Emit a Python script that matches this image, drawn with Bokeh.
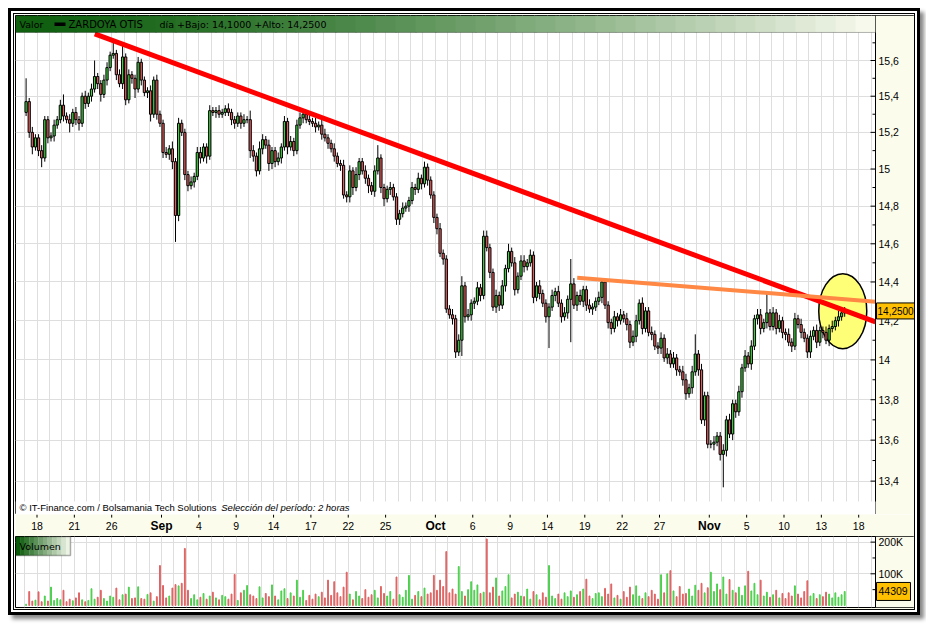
import numpy as np
import pandas as pd
from bokeh.plotting import figure
from bokeh.layouts import column
from bokeh.models import (Range1d, FixedTicker, Grid, BoxAnnotation, Label, Span, ColumnDataSource)
from bokeh.core.properties import value, field
from bokeh.embed import file_html
from bokeh.resources import INLINE

# ---------------- data (2-hour bars, 4 per trading day, 17 Aug .. 16 Nov 2009) ----------------
first_open = 15.31
close = [
    15.37, 15.20, 15.12, 15.17,  15.10, 15.06, 15.27, 15.17,  15.18, 15.24, 15.27, 15.35,
    15.29, 15.27, 15.25, 15.31,  15.27, 15.25, 15.40, 15.36,  15.40, 15.44, 15.51, 15.47,
    15.41, 15.49, 15.56, 15.63,  15.64, 15.52, 15.47, 15.62,  15.38, 15.52, 15.50, 15.44,
    15.59, 15.49, 15.42, 15.43,  15.30, 15.49, 15.30, 15.25,  15.09, 15.08, 15.11, 15.04,
    14.75, 15.25, 15.20, 14.97,  14.91, 14.93, 14.96, 15.09,  15.06, 15.12, 15.07, 15.32,
    15.31, 15.32, 15.30, 15.31,  15.33, 15.31, 15.27, 15.25,  15.29, 15.25, 15.27, 15.27,
    15.10, 15.07, 14.99, 15.11,  15.16, 15.13, 15.03, 15.10,  15.04, 15.06, 15.12, 15.26,
    15.12, 15.15, 15.10, 15.24,  15.28, 15.30, 15.27, 15.26,  15.25, 15.23, 15.24, 15.19,
    15.17, 15.14, 15.11, 15.07,  15.03, 15.02, 14.86, 14.85,  14.99, 14.90, 14.97, 15.04,
    14.99, 14.95, 14.91, 14.88,  14.99, 15.06, 14.90, 14.84,  14.89, 14.90, 14.85, 14.73,
    14.76, 14.79, 14.80, 14.83,  14.90, 14.89, 14.95, 14.92,  15.01, 14.94, 14.86, 14.74,
    14.68, 14.55, 14.52, 14.26,  14.23, 14.21, 14.04, 14.10,  14.38, 14.22, 14.23, 14.29,
    14.30, 14.37, 14.33, 14.64,  14.58, 14.45, 14.27, 14.33,  14.28, 14.38, 14.47, 14.56,
    14.50, 14.36, 14.43, 14.51,  14.48, 14.50, 14.54, 14.32,  14.38, 14.34, 14.29, 14.22,
    14.27, 14.33, 14.35, 14.29,  14.22, 14.24, 14.31, 14.39,  14.28, 14.33, 14.30, 14.36,
    14.28, 14.26, 14.27, 14.30,  14.32, 14.40, 14.28, 14.19,  14.16, 14.22, 14.20, 14.23,
    14.21, 14.18, 14.09, 14.12,  14.20, 14.29, 14.16, 14.25,  14.14, 14.13, 14.07, 14.06,
    14.11, 14.01, 14.03, 13.98,  14.01, 13.95, 13.94, 13.90,  13.83, 13.86, 13.94, 14.03,
    13.95, 13.70, 13.82, 13.58,  13.58, 13.59, 13.62, 13.53,  13.55, 13.70, 13.63, 13.78,
    13.74, 13.84, 13.96, 14.02,  13.98, 14.07, 14.21, 14.23,  14.16, 14.19, 14.24, 14.17,
    14.24, 14.16, 14.20, 14.14,  14.13, 14.09, 14.07, 14.21,  14.18, 14.14, 14.11, 14.04,
    14.12, 14.15, 14.09, 14.15,  14.14, 14.10, 14.16, 14.17,  14.20, 14.22, 14.24, 14.25,
]
# wick length above / below the body, in cents
wick_up = [
    13, 2, 3, 2,  2, 3, 2, 2,  2, 3, 2, 3,  6, 2, 3, 2,  3, 2, 2, 3,  2, 3, 9, 2,
    2, 3, 3, 2,  7, 2, 3, 8,  2, 3, 2, 2,  3, 2, 2, 2,  3, 2, 3, 2,  2, 3, 2, 4,
    2, 3, 2, 2,  2, 3, 2, 3,  3, 2, 2, 3,  2, 2, 3, 2,  2, 3, 2, 2,  2, 2, 3, 2,
    5, 3, 2, 4,  3, 2, 3, 2,  2, 3, 2, 3,  2, 3, 2, 3,  3, 2, 2, 4,  2, 3, 2, 3,
    3, 2, 2, 3,  2, 2, 3, 2,  3, 2, 4, 2,  2, 3, 2, 2,  3, 7, 2, 2,  2, 3, 2, 2,
    2, 3, 2, 2,  3, 2, 3, 2,  3, 2, 2, 2,  2, 3, 2, 2,  2, 3, 2, 3,  5, 2, 3, 2,
    2, 3, 2, 3,  3, 2, 2, 3,  2, 3, 2, 4,  2, 3, 2, 3,  3, 2, 3, 2,  2, 3, 2, 2,
    2, 3, 2, 3,  2, 3, 2, 13,  3, 2, 3, 2,  2, 3, 2, 2,  3, 2, 2, 2,  2, 3, 2, 3,
    2, 3, 2, 3,  3, 2, 3, 2,  2, 3, 2, 2,  3, 2, 3, 2,  3, 2, 2, 3,  3, 2, 3, 10,
    2, 3, 2, 2,  2, 3, 2, 2,  3, 2, 3, 2,  2, 3, 2, 3,  2, 3, 2, 3,  3, 2, 10, 2,
    3, 2, 3, 2,  2, 3, 2, 3,  2, 3, 2, 2,  3, 2, 3, 2,  2, 3, 2, 3,  2, 3, 2, 2,
]
wick_dn = [
    2, 3, 4, 2,  3, 5, 2, 3,  2, 3, 2, 2,  3, 2, 5, 2,  3, 4, 2, 3,  2, 3, 2, 3,
    4, 2, 3, 2,  2, 3, 2, 3,  3, 2, 3, 5,  2, 3, 2, 3,  4, 2, 3, 2,  3, 2, 3, 4,
    14, 3, 2, 3,  3, 2, 3, 2,  3, 2, 4, 2,  2, 3, 2, 2,  2, 2, 3, 3,  2, 3, 2, 2,
    4, 3, 3, 2,  3, 2, 4, 3,  3, 2, 3, 2,  4, 2, 3, 2,  2, 3, 2, 2,  2, 3, 2, 3,
    2, 3, 2, 3,  2, 3, 2, 3,  3, 4, 2, 3,  2, 3, 4, 2,  3, 2, 3, 4,  2, 3, 2, 3,
    3, 2, 2, 3,  2, 3, 2, 3,  2, 3, 2, 3,  3, 2, 3, 2,  2, 3, 3, 2,  8, 3, 2, 3,
    3, 2, 3, 2,  2, 3, 2, 3,  3, 2, 3, 2,  2, 3, 2, 2,  3, 2, 2, 3,  2, 3, 2, 3,
    16, 2, 3, 2,  3, 2, 3, 22,  2, 3, 2, 3,  3, 2, 3, 2,  2, 3, 2, 3,  3, 2, 3, 2,
    2, 3, 3, 2,  3, 2, 3, 2,  2, 3, 2, 3,  3, 2, 3, 2,  2, 3, 2, 3,  3, 2, 3, 2,
    3, 2, 3, 2,  2, 3, 2, 3,  16, 3, 2, 3,  3, 2, 3, 2,  2, 3, 2, 3,  3, 2, 3, 2,
    2, 3, 2, 3,  3, 2, 3, 2,  2, 3, 2, 3,  3, 2, 3, 2,  3, 2, 3, 2,  2, 3, 2, 2,
]
# volume per bar, thousands of shares
volume_k = [
    4, 44, 14, 17,  43, 12, 30, 14,  58, 16, 22, 18,  48, 12, 20, 15,  24, 40, 18, 12,
    16, 53, 20, 26,  48, 22, 14, 30,  26, 55, 18, 34,  36, 58, 22, 24,  59, 22, 20, 35,
    40, 14, 28, 126,  63, 24, 30, 55,  66, 62, 70, 180,  48, 22, 34, 18,  26, 38, 20, 30,
    42, 24, 18, 32,  28, 20, 36, 98,  16, 40, 48, 63,  34, 30, 22, 59,  24, 38, 28, 65,
    30, 18, 46, 53,  22, 40, 30, 80,  26, 48, 16, 32,  20, 36, 28, 42,  24, 80, 32, 75,
    40, 28, 58, 105,  36, 18, 44, 30,  22, 50, 26, 34,  48, 24, 60, 38,  30, 44, 20, 90,
    34, 26, 48, 95,  20, 32, 44, 28,  55, 36, 40, 95,  48, 80, 60, 170,  40, 52, 36, 123,
    44, 30, 50, 75,  48, 65, 38, 42,  210, 40, 58, 87,  30, 46, 60, 97,  24, 36, 42, 30,
    28, 52, 20, 44,  34, 18, 40, 26,  126, 30, 22, 36,  20, 40, 28, 46,  26, 34, 44, 52,
    83, 30, 22, 38,  40, 28, 54, 36,  68, 24, 32, 20,  44, 26, 58, 34,  62, 30, 22, 40,
    28, 48, 36, 20,  97, 40, 100, 110,  46, 28, 60, 36,  38, 52, 30, 64,  48, 70, 40, 56,
    105, 44, 68, 50,  90, 36, 82, 48,  40, 58, 32, 62,  108, 46, 70, 34,  80, 30, 42, 26,
    34, 48, 24, 38,  22, 40, 30, 62,  36, 24, 44, 78,  30, 38, 22, 34,  28, 42, 36, 24,
    40, 26, 34, 44.309,
]
tick_dates = ["2009-08-18", "2009-08-21", "2009-08-26", "2009-09-01", "2009-09-04", "2009-09-09",
              "2009-09-14", "2009-09-17", "2009-09-22", "2009-09-25", "2009-10-01", "2009-10-06",
              "2009-10-09", "2009-10-14", "2009-10-19", "2009-10-22", "2009-10-27", "2009-11-02",
              "2009-11-05", "2009-11-10", "2009-11-13", "2009-11-18"]
tick_labels = ["18", "21", "26", "Sep", "4", "9", "14", "17", "22", "25", "Oct", "6", "9", "14",
               "19", "22", "27", "Nov", "5", "10", "13", "18"]
price_ticks = [13.4, 13.6, 13.8, 14.0, 14.2, 14.4, 14.6, 14.8, 15.0, 15.2, 15.4, 15.6]
price_minor = [13.5, 13.7, 13.9, 14.1, 14.3, 14.5, 14.7, 14.9, 15.1, 15.3, 15.5, 15.7]
vol_ticks = [100, 200]
vol_minor = [50, 150]
# drawn trend lines (trading-day position, price)
resistance_x = [4.64, 67.35]
resistance_y = [15.751, 14.194]
support_x = [43.39, 67.35]
support_y = [14.422, 14.298]
highlight_x = [64.72]
highlight_y = [14.249]
last_price_text = "14,2500"
last_price = 14.25
last_volume_text = "44309"
last_volume = 44.309

# ---------------- derived ----------------
bdays = pd.bdate_range("2009-08-17", "2009-11-19")
day_index = {d.strftime("%Y-%m-%d"): i - 1 for i, d in enumerate(bdays)}
n = len(close)
bar_day = np.repeat(np.arange(-1, -1 + n // 4), 4)
bar_x = bar_day + (np.tile(np.arange(4), n // 4) + 0.5) / 4.0
c = np.array(close)
o = np.concatenate([[first_open], c[:-1]])
top = np.maximum(o, c)
bot = np.minimum(o, c)
hi = top + np.array(wick_up) / 100.0
lo = bot - np.array(wick_dn) / 100.0
up = c >= o
GREEN, RED = "#3fcc3f", "#e05c5c"
src = ColumnDataSource(dict(
    x=bar_x, top=top, bot=bot, hi=hi, lo=lo, vol=volume_k,
    color=[GREEN if u else RED for u in up],
    vcolor=["#4cd04c" if u else "#e06262" for u in up],
))

CREAM = "#fcfcec"
GRID = "#dedede"
FONT = "Liberation Sans"
PX = 12.45                      # pixels per trading day
AX = 67.35                      # position of the right-hand value axis
XR = Range1d(-1.727, 70.482)
day_grid = list(range(-1, 68))
Y0, Y1 = 13.2393, 15.8558
LOGPX = 2767.0                  # pixels per unit of ln(price)


def fmt_price(t):
    s_ = "%.1f" % t
    return (s_[:-2] if s_.endswith(".0") else s_).replace(".", ",")


def right_axis(fig, ticks, minor, labels, ymin, ymax):
    fig.add_layout(BoxAnnotation(left=AX, right=XR.end, bottom=ymin, top=ymax, fill_color=CREAM,
                                 fill_alpha=1, line_alpha=0, level="underlay"))
    fig.add_layout(Span(location=AX, dimension="height", line_color="black", line_width=1))
    fig.segment(x0=[AX - 5 / PX] * len(ticks), y0=ticks, x1=[AX] * len(ticks), y1=ticks,
                line_color="black", line_width=1)
    fig.segment(x0=[AX - 3 / PX] * len(minor), y0=minor, x1=[AX] * len(minor), y1=minor,
                line_color="black", line_width=1)
    fig.text(x=[AX + 3 / PX] * len(ticks), y=ticks, text=labels, text_font=value(FONT),
             text_font_size="10.5px", text_color="black", text_align="left", text_baseline="middle")


# ---------------- main price panel ----------------
p = figure(width=900, height=500, x_range=XR, y_range=Range1d(Y0, Y1),
           y_axis_type="log", x_axis_location=None, y_axis_location=None,
           toolbar_location=None, output_backend="svg", title=None,
           min_border_left=1, min_border_right=0, min_border_top=1, min_border_bottom=0,
           background_fill_color="white", border_fill_color=CREAM,
           outline_line_color="black", outline_line_width=1)
p.grid.visible = False
p.add_layout(Grid(dimension=0, ticker=FixedTicker(ticks=day_grid), grid_line_color=GRID))
p.add_layout(Grid(dimension=1, ticker=FixedTicker(ticks=price_ticks), grid_line_color=GRID))
right_axis(p, price_ticks, price_minor, [fmt_price(t) for t in price_ticks], Y0, Y1)

# header bar (stepped green gradient)
hb = 15.759
N = 43
w = (AX - XR.start) / N
for k in range(N):
    t = k / (N - 1)
    t2 = t ** 1.4
    r = int(16 + (246 - 16) * t2)
    g = int(96 + (249 - 96) * t2)
    b = int(16 + (236 - 16) * t2)
    p.add_layout(BoxAnnotation(left=XR.start + k * w, right=min(AX, XR.start + (k + 1.05) * w),
                               bottom=hb, top=Y1, fill_color="#%02x%02x%02x" % (r, g, b),
                               fill_alpha=1, line_alpha=0, level="overlay"))
p.add_layout(BoxAnnotation(left=XR.start, right=AX, bottom=hb, top=Y1, fill_alpha=0,
                           line_color="black", line_width=1, level="overlay"))
p.add_layout(BoxAnnotation(left=1.406, right=2.289, bottom=15.796, top=15.816,
                           fill_color="black", fill_alpha=1, line_alpha=0, level="overlay"))
for tx, txt, fs in [(-1.406, "Valor", "9.5px"), (2.53, "ZARDOYA OTIS", "10px"),
                    (9.84, "día +Bajo: 14,1000 +Alto: " + last_price_text, "9.5px")]:
    p.add_layout(Label(x=tx, y=15.807, text=txt, text_font="DejaVu Sans", text_font_size=fs,
                       text_color="black", text_baseline="middle", level="overlay"))

# footer band
p.add_layout(BoxAnnotation(left=XR.start, right=AX, bottom=Y0, top=13.3017,
                           fill_color="white", fill_alpha=1, line_alpha=0))
p.add_layout(Label(x=-1.406, y=13.273, text="© IT-Finance.com / Bolsamania Tech Solutions",
                   text_font=FONT, text_font_size="9.5px", text_color="black", text_baseline="middle"))
p.add_layout(Label(x=14.8, y=13.273, text="Selección del período: 2 horas",
                   text_font=FONT, text_font_size="9.5px", text_font_style="italic",
                   text_color="black", text_baseline="middle"))

# highlight ellipse, candles, trend lines
p.ellipse(x=highlight_x, y=highlight_y, width=48, height=75, width_units="screen",
          height_units="screen", fill_color="#ffff77", line_color="black", line_width=1.5)
p.segment(x0="x", y0="lo", x1="x", y1="hi", source=src, line_color="black", line_width=1)
p.vbar(x="x", width=0.18, top="top", bottom="bot", source=src, fill_color="color",
       line_color="black", line_width=1)
p.line(resistance_x, resistance_y, line_color="#ff0000", line_width=5)
p.line(support_x, support_y, line_color="#ff8844", line_width=4)
# last-price tag on the value axis
p.quad(left=[AX + 1 / PX], right=[XR.end], bottom=[last_price * np.exp(-8 / LOGPX)],
       top=[last_price * np.exp(8 / LOGPX)], fill_color="#ffc000", line_color="black", line_width=1)
p.text(x=[AX + 2 / PX], y=[last_price], text=[last_price_text], text_font=value(FONT),
       text_font_size="10px", text_color="black", text_align="left", text_baseline="middle")

# ---------------- date strip ----------------
tx_pos = [day_index[d] for d in tick_dates]
is_month = [lab.isalpha() for lab in tick_labels]
tsrc = ColumnDataSource(dict(x=tx_pos, label=tick_labels,
                             style=["bold" if m else "normal" for m in is_month],
                             size=["12px" if m else "10.5px" for m in is_month]))
s = figure(width=900, height=22, x_range=XR, y_range=Range1d(0, 1),
           x_axis_location=None, y_axis_location=None, toolbar_location=None,
           output_backend="svg", title=None,
           min_border_left=1, min_border_right=0, min_border_top=0, min_border_bottom=0,
           background_fill_color=CREAM, border_fill_color=CREAM, outline_line_color=None)
s.grid.visible = False
s.segment(x0="x", y0=1, x1="x", y1=0.86, source=tsrc, line_color="black", line_width=1)
s.text(x="x", y=0.47, text="label", source=tsrc, text_font=value(FONT),
       text_font_size=field("size"), text_font_style=field("style"),
       text_align="center", text_baseline="middle", text_color="black")

# ---------------- volume panel ----------------
V0, V1 = -6.3, 217.7
VPX = 71.0 / (V1 - V0)          # pixels per thousand shares
v = figure(width=900, height=73, x_range=XR, y_range=Range1d(V0, V1),
           x_axis_location=None, y_axis_location=None, toolbar_location=None,
           output_backend="svg", title=None,
           min_border_left=1, min_border_right=0, min_border_top=0, min_border_bottom=2,
           background_fill_color="white", border_fill_color=CREAM, outline_line_color="black")
v.grid.visible = False
v.add_layout(Grid(dimension=0, ticker=FixedTicker(ticks=day_grid), grid_line_color=GRID))
v.add_layout(Grid(dimension=1, ticker=FixedTicker(ticks=vol_ticks), grid_line_color=GRID))
right_axis(v, vol_ticks, vol_minor, ["%dK" % t for t in vol_ticks], V0, V1)
v.vbar(x="x", top="vol", bottom=0, width=0.07, source=src, fill_color="vcolor", line_color="vcolor",
       line_width=1)
NV = 12
wv = (2.69 - XR.start) / NV
for k in range(NV):
    t = k / (NV - 1)
    r = int(10 + (236 - 10) * t)
    g = int(90 + (242 - 90) * t)
    b = int(10 + (228 - 10) * t)
    v.add_layout(BoxAnnotation(left=XR.start + k * wv, right=XR.start + (k + 1.05) * wv,
                               bottom=157.7, top=V1, fill_color="#%02x%02x%02x" % (r, g, b),
                               fill_alpha=1, line_alpha=0, level="overlay"))
v.add_layout(BoxAnnotation(left=XR.start, right=2.69, bottom=157.7, top=V1, fill_alpha=0,
                           line_color="black", line_width=1.5, level="overlay"))
v.add_layout(Label(x=-1.406, y=187.7, text="Volumen", text_font="DejaVu Sans", text_font_size="9.5px",
                   text_color="black", text_baseline="middle", level="overlay"))
v.quad(left=[AX + 1 / PX], right=[AX + 35 / PX], bottom=[last_volume - 9 / VPX],
       top=[last_volume + 9 / VPX], fill_color="#ffc000", line_color="black", line_width=1)
v.text(x=[AX + 3 / PX], y=[last_volume], text=[last_volume_text], text_font=value(FONT),
       text_font_size="10.5px", text_color="black", text_align="left", text_baseline="middle")

inner = column(p, s, v, spacing=0, styles={"border": "1px solid black"})
outer = column(inner, spacing=0, styles={"border": "3px solid black", "padding": "2px",
                                         "margin": "8px",
                                         "background-color": "white",
                                         "box-shadow": "4px 4px 4px #888"})

open("out.html", "w").write(file_html(outer, INLINE))
